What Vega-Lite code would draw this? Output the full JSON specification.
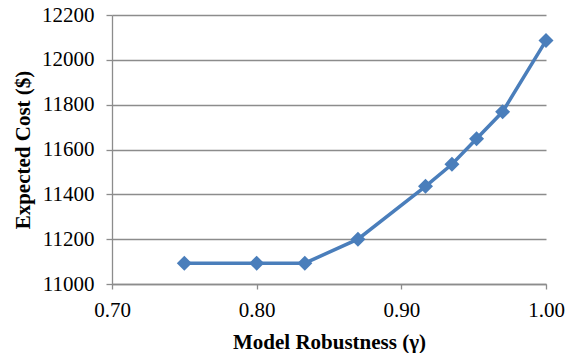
{
  "$schema": "https://vega.github.io/schema/vega-lite/v6.json",
  "width": 434,
  "height": 269,
  "autosize": "none",
  "padding": {"left": 112, "top": 15, "right": 28, "bottom": 69},
  "background": "white",
  "config": {
    "view": {"stroke": null},
    "font": "Liberation Serif"
  },
  "data": {
    "values": [
      {"gamma": 0.75, "cost": 11093},
      {"gamma": 0.80, "cost": 11093},
      {"gamma": 0.8333, "cost": 11093},
      {"gamma": 0.87, "cost": 11200},
      {"gamma": 0.9167, "cost": 11436},
      {"gamma": 0.935, "cost": 11534},
      {"gamma": 0.952, "cost": 11648},
      {"gamma": 0.97, "cost": 11768},
      {"gamma": 1.0, "cost": 12086}
    ]
  },
  "encoding": {
    "x": {
      "field": "gamma",
      "type": "quantitative",
      "scale": {"domain": [0.7, 1.0], "nice": false, "zero": false},
      "axis": {
        "title": "Model Robustness (γ)",
        "values": [0.7, 0.8, 0.9, 1.0],
        "format": ".2f",
        "grid": false,
        "domainColor": "#8c8c8c",
        "domainWidth": 1.3,
        "tickColor": "#8c8c8c",
        "tickWidth": 1.3,
        "tickSize": 5,
        "labelPadding": 10,
        "labelFont": "Liberation Serif",
        "labelFontSize": 21,
        "labelColor": "#000000",
        "labelFlush": false,
        "titleFont": "Liberation Serif",
        "titleFontSize": 21,
        "titleFontWeight": "bold",
        "titleColor": "#000000",
        "titleBaseline": "alphabetic",
        "titleY": 64
      }
    },
    "y": {
      "field": "cost",
      "type": "quantitative",
      "scale": {"domain": [11000, 12200], "nice": false, "zero": false},
      "axis": {
        "title": "Expected Cost ($)",
        "values": [11000, 11200, 11400, 11600, 11800, 12000, 12200],
        "format": "d",
        "grid": true,
        "gridColor": "#8c8c8c",
        "gridWidth": 1.3,
        "domainColor": "#8c8c8c",
        "domainWidth": 1.3,
        "tickColor": "#8c8c8c",
        "tickWidth": 1.3,
        "tickSize": 6,
        "labelPadding": 12,
        "labelFont": "Liberation Serif",
        "labelFontSize": 21,
        "labelColor": "#000000",
        "labelFlush": false,
        "titleFont": "Liberation Serif",
        "titleFontSize": 21,
        "titleFontWeight": "bold",
        "titleColor": "#000000",
        "titleAngle": -90,
        "titleBaseline": "alphabetic",
        "titleX": -83,
        "titleY": 134.5
      }
    }
  },
  "layer": [
    {
      "mark": {"type": "line", "color": "#4a7ebb", "strokeWidth": 3.5}
    },
    {
      "mark": {"type": "point", "shape": "diamond", "filled": true, "size": 225, "color": "#4a7ebb", "opacity": 1}
    }
  ]
}
